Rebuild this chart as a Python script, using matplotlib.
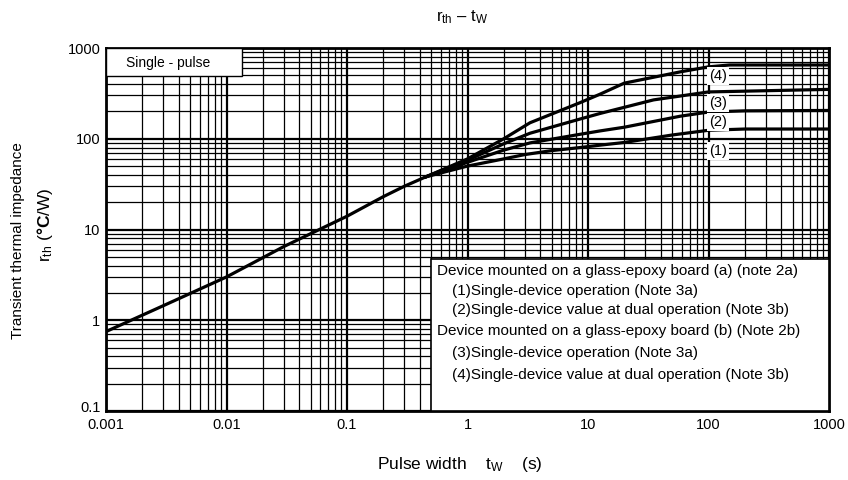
import matplotlib
matplotlib.use("Agg")
import matplotlib.pyplot as plt
from matplotlib.patches import Rectangle
from matplotlib.transforms import ScaledTranslation

plt.rcParams['font.family'] = ['Liberation Sans', 'DejaVu Sans']
plt.rcParams['mathtext.fontset'] = 'custom'
plt.rcParams['mathtext.rm'] = 'Liberation Sans'
plt.rcParams['mathtext.it'] = 'Liberation Sans'
plt.rcParams['mathtext.bf'] = 'Liberation Sans:bold'

# common part (single curve before split)
common_t = [0.001, 0.003, 0.01, 0.03, 0.1, 0.2, 0.3, 0.45]
common_r = [0.75, 1.45, 3.0, 6.5, 14.0, 23.0, 30.0, 38.0]

c1_t = [0.45, 1, 2, 3, 5, 8.6, 12.6, 20, 50, 100, 200, 1000]
c1_r = [38, 50, 60, 67, 74, 80, 85, 91, 110, 124, 128, 128]
c2_t = [0.45, 1, 2, 3.3, 8.6, 12.6, 20, 58, 100, 200, 1000]
c2_r = [38, 55, 75, 90, 112, 122, 134, 177, 197, 203, 205]
c3_t = [0.45, 1, 2, 3.3, 8.6, 12.6, 20, 35, 100, 1000]
c3_r = [38, 58, 88, 115, 165, 190, 222, 268, 328, 350]
c4_t = [0.45, 1, 2, 3.3, 8.6, 12.6, 20, 58, 100, 150, 1000]
c4_r = [38, 60, 100, 150, 250, 310, 410, 545, 620, 650, 650]

curve_labels = ["(1)", "(2)", "(3)", "(4)"]
label_r = [73, 152, 246, 489]

legend_lines = [
    "Device mounted on a glass-epoxy board (a) (note 2a)",
    "(1)Single-device operation (Note 3a)",
    "(2)Single-device value at dual operation (Note 3b)",
    "Device mounted on a glass-epoxy board (b) (Note 2b)",
    "(3)Single-device operation (Note 3a)",
    "(4)Single-device value at dual operation (Note 3b)",
]
legend_indent = [0, 1, 1, 0, 1, 1]

xticks = [0.001, 0.01, 0.1, 1, 10, 100, 1000]
xticklabels = ["0.001", "0.01", "0.1", "1", "10", "100", "1000"]
yticks = [0.1, 1, 10, 100, 1000]
yticklabels = ["0.1", "1", "10", "100", "1000"]

fig = plt.figure(figsize=(8.48, 4.8), dpi=100)
ax = fig.add_axes([106/848, 1-411/480, (829-106)/848, (411-48)/480])
ax.set_xscale('log')
ax.set_yscale('log')
ax.set_xlim(0.001, 1000)
ax.set_ylim(0.1, 1000)

ax.grid(True, which='major', color='black', linewidth=1.6)
ax.grid(True, which='minor', color='black', linewidth=0.9)
ax.set_axisbelow(True)

lw = 2.3
ax.plot(common_t, common_r, color='black', lw=lw, solid_capstyle='butt')
for t, r in [(c1_t, c1_r), (c2_t, c2_r), (c3_t, c3_r), (c4_t, c4_r)]:
    ax.plot(t, r, color='black', lw=lw, solid_joinstyle='round')

for lab, rr in zip(curve_labels, label_r):
    ax.text(120, rr, lab, ha='center', va='center', fontsize=10.5,
            bbox=dict(facecolor='white', edgecolor='none', pad=1.5), zorder=5)

ax.set_xticks(xticks)
ax.set_xticklabels(xticklabels)
ax.set_yticks(yticks)
ax.set_yticklabels(yticklabels)
ax.tick_params(which='both', length=0, labelsize=10.5)
ax.tick_params(axis='x', pad=5)
ax.tick_params(axis='y', pad=4)
# nudge the lowest y label up a little so it does not touch "0.001"
ylabs = ax.get_yticklabels()
ylabs[0].set_transform(ylabs[0].get_transform() + ScaledTranslation(0, 3/100, fig.dpi_scale_trans))
ylabs[0].set_va('center')
for s in ax.spines.values():
    s.set_linewidth(2)

# single-pulse box
ax.add_patch(Rectangle((0.001, 489), 0.01345 - 0.001, 1000 - 489, facecolor='white',
                       edgecolor='black', lw=1, zorder=5))
ax.text(0.00327, 679, "Single - pulse", ha='center', va='center', fontsize=10, zorder=6)

# legend box
fig_box = Rectangle((431/848, 1-411/480), (829-431)/848, (411-259)/480,
                    transform=fig.transFigure, facecolor='white', edgecolor='black',
                    lw=1.2, zorder=10)
fig.add_artist(fig_box)
ys = [271, 291, 310, 331, 353, 375]
for line, ind, yy in zip(legend_lines, legend_indent, ys):
    xx = 437 if ind == 0 else 452
    fig.text(xx/848, 1-yy/480, line, ha='left', va='center', fontsize=11, zorder=11)

fig.text(462/848, 1-17/480, r"r$_{\rm th}$ – t$_{\rm W}$", ha='center', va='center', fontsize=12)
fig.text(460/848, 1-464/480, r"Pulse width    t$_{\rm W}$    (s)", ha='center', va='center', fontsize=12.5)
fig.text(18/848, 1-241/480, "Transient thermal impedance", rotation=90, ha='center', va='center', fontsize=11)
fig.text(45/848, 1-225/480, r"r$_{\rm th}$ ($\mathbf{°C}$/W)", rotation=90, ha='center', va='center', fontsize=12.5)

fig.savefig("out.png", dpi=100)
